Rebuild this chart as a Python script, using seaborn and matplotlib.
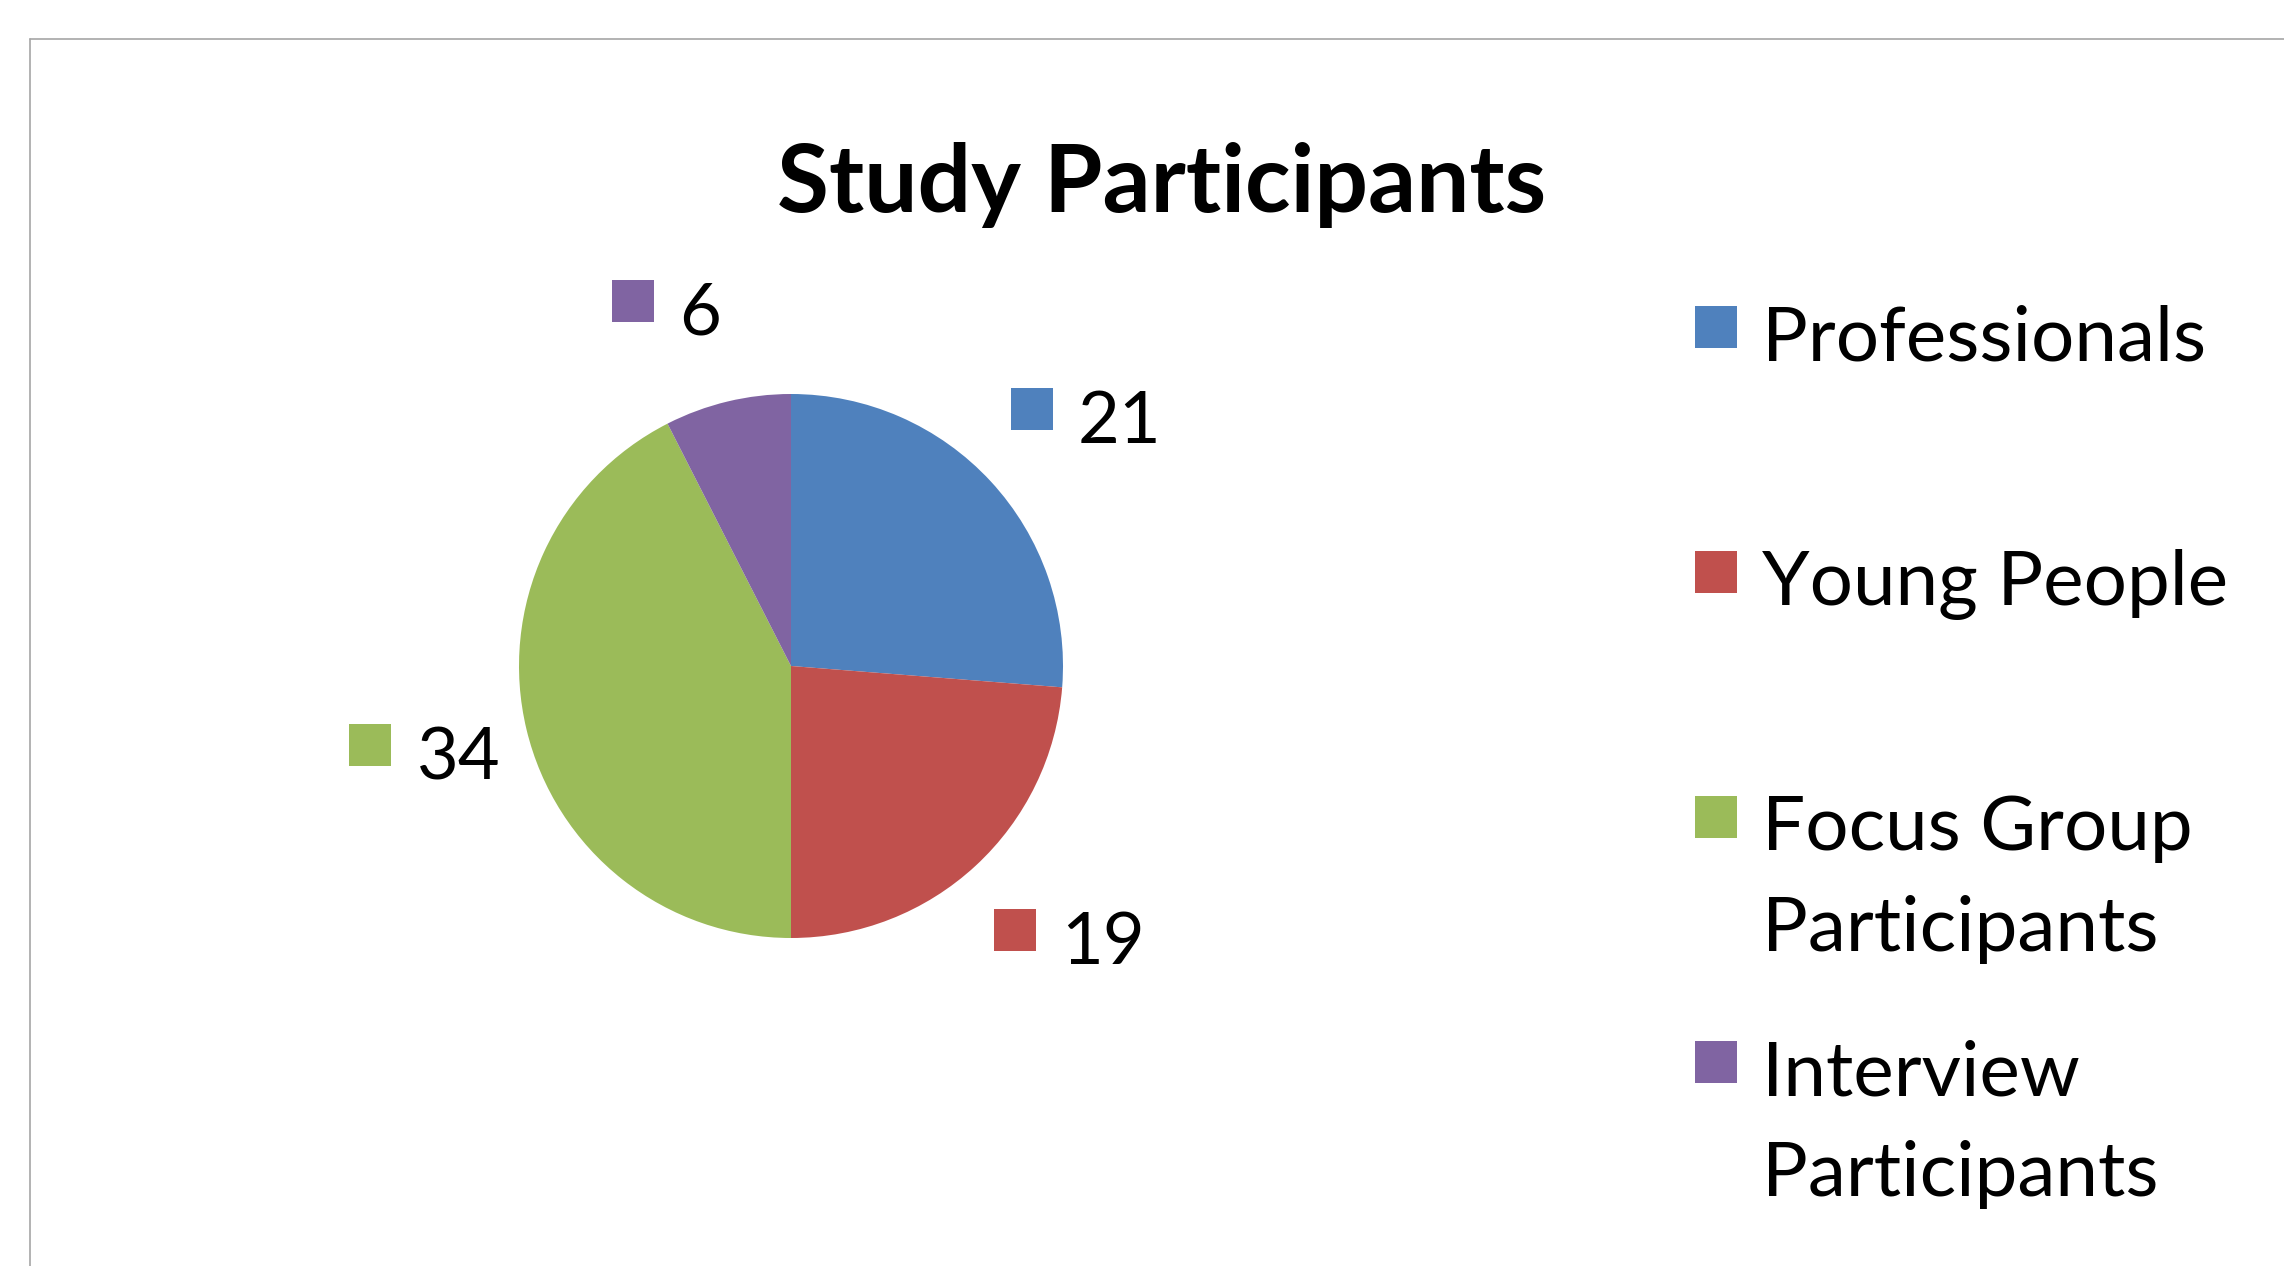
import numpy as np
import seaborn as sns
import matplotlib
matplotlib.use("Agg")
import matplotlib.pyplot as plt
from matplotlib.patches import Rectangle
from matplotlib.lines import Line2D
from matplotlib.offsetbox import DrawingArea, TextArea, HPacker, AnnotationBbox

# data
categories = ["Professionals", "Young People", "Focus Group Participants", "Interview Participants"]
legend_labels = ["Professionals", "Young People", "Focus Group\nParticipants", "Interview\nParticipants"]
counts = [21, 19, 34, 6]
colors = ["#4F81BD", "#C0504D", "#9BBB59", "#8064A2"]

sns.set_theme(style="white")
plt.rcParams['font.family'] = ['Lato', 'DejaVu Sans']

W, H = 2284, 1266
fig = plt.figure(figsize=(W / 100, H / 100), dpi=100, facecolor="white")

# chart frame (only top/left edges visible)
frame_col = "#a6a6a6"
fig.add_artist(Line2D([30 / W, 30 / W], [0, 1 - 39 / H], color=frame_col, lw=1.2))
fig.add_artist(Line2D([30 / W, 1], [1 - 39 / H, 1 - 39 / H], color=frame_col, lw=1.2))

# title
fig.text(1162 / W, 1 - 212 / H, "Study Participants", ha="center", va="baseline",
         fontsize=68, fontweight="bold", color="black")

# pie axes: centre (791, 666) px, radius 272 px
cx, cy, r = 791, 666, 272
lim = 1.6
side = 2 * lim * r
ax = fig.add_axes([(cx - side / 2) / W, (H - cy - side / 2) / H, side / W, side / H])
wedges, _ = ax.pie(counts, colors=colors, startangle=90, counterclock=False,
                   radius=1, wedgeprops=dict(linewidth=0))
ax.set_xlim(-lim, lim)
ax.set_ylim(-lim, lim)
ax.set_aspect("equal")
ax.axis("off")

# data labels (outside end): coloured square + value
sq_pt = 30.2
lift = 10
for w, val, col in zip(wedges, counts, colors):
    mid = np.deg2rad((w.theta1 + w.theta2) / 2)
    lx, ly = 1.1 * np.cos(mid), 1.355 * np.sin(mid) - 0.025
    da = DrawingArea(sq_pt, sq_pt + 2 * lift)
    da.add_artist(Rectangle((0, 2 * lift), sq_pt, sq_pt, facecolor=col, edgecolor="none"))
    ta = TextArea(str(val), textprops=dict(fontsize=52, color="black"))
    box = HPacker(children=[da, ta], sep=18, align="center", pad=0)
    halign = 0 if np.cos(mid) >= 0 else 1
    ax.add_artist(AnnotationBbox(box, (lx, ly), xycoords="data", frameon=False,
                                 box_alignment=(halign, 0.5), pad=0, annotation_clip=False))

# legend (square + label lines)
for i, (lab, col) in enumerate(zip(legend_labels, colors)):
    top = 306 + i * 245
    fig.add_artist(Rectangle((1695 / W, 1 - (top + 42) / H), 42 / W, 42 / H,
                             transform=fig.transFigure, facecolor=col, edgecolor="none"))
    for k, line in enumerate(lab.split("\n")):
        fig.text(1762 / W, 1 - (top + 54 + k * 101) / H, line, ha="left", va="baseline",
                 fontsize=55, color="black")

fig.savefig("out.png", dpi=100, facecolor="white")
